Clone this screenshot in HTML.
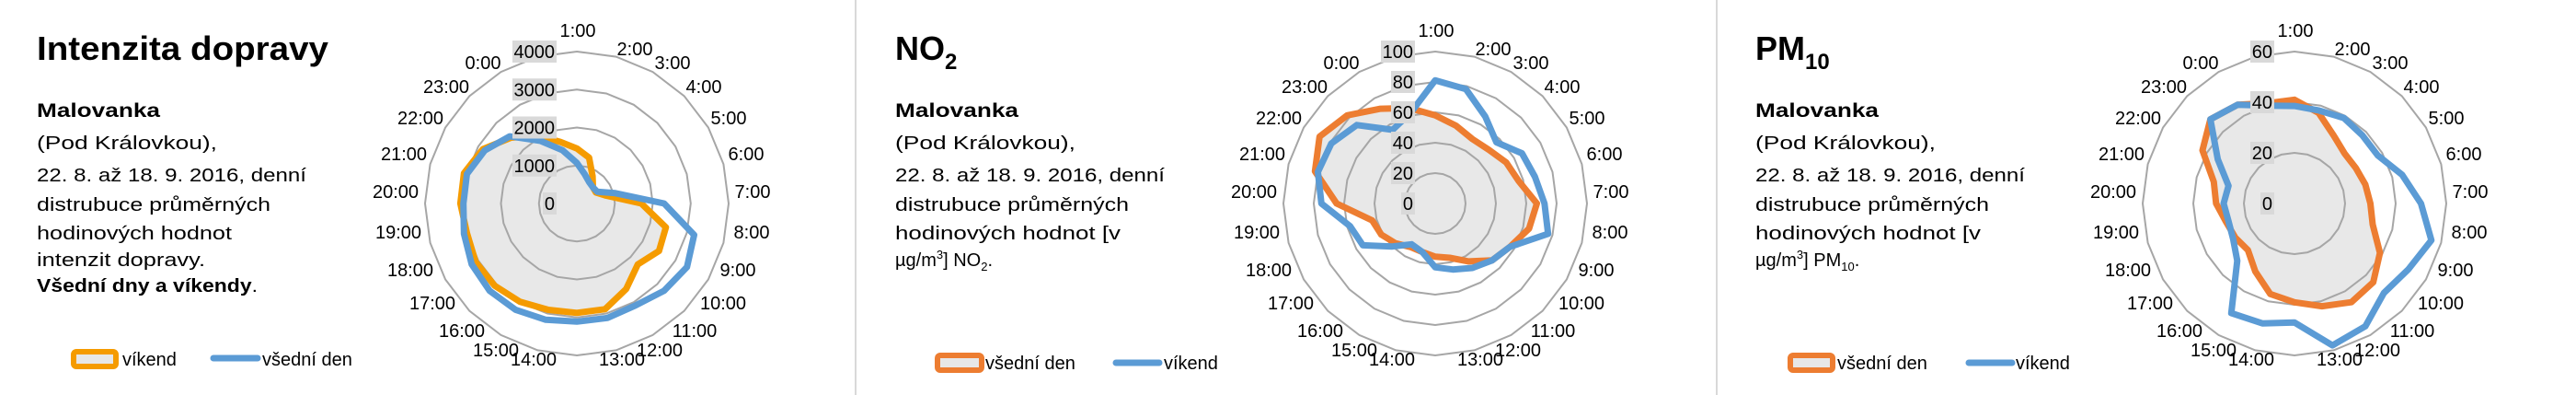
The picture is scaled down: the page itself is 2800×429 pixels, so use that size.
<!DOCTYPE html>
<html><head><meta charset="utf-8">
<style>
html,body{margin:0;padding:0;background:#fff;}
svg{display:block;font-family:"Liberation Sans",Arial,sans-serif;}
</style></head>
<body>
<svg id="root" width="2800" height="429" viewBox="0 0 2800 429" xmlns="http://www.w3.org/2000/svg">
<rect x="0" y="0" width="2800" height="429" fill="#fff"/>
<line x1="930" y1="0" x2="930" y2="429" stroke="#d9d9d9" stroke-width="2"/>
<line x1="1866" y1="0" x2="1866" y2="429" stroke="#d9d9d9" stroke-width="2"/>

<g>
<text x="40" y="65" font-size="36" font-weight="bold" textLength="317" lengthAdjust="spacingAndGlyphs">Intenzita dopravy</text>
<text x="40" y="127" font-size="21" font-weight="bold" textLength="134" lengthAdjust="spacingAndGlyphs">Malovanka</text>
<text x="40" y="162" font-size="20" textLength="196" lengthAdjust="spacingAndGlyphs">(Pod Královkou),</text>
<text x="40" y="197" font-size="20" textLength="293" lengthAdjust="spacingAndGlyphs">22. 8. až 18. 9. 2016, denní</text>
<text x="40" y="229" font-size="20" textLength="254" lengthAdjust="spacingAndGlyphs">distrubuce průměrných</text>
<text x="40" y="260" font-size="20" textLength="212" lengthAdjust="spacingAndGlyphs">hodinových hodnot</text>
<text x="40" y="289" font-size="20" textLength="183" lengthAdjust="spacingAndGlyphs">intenzit dopravy.</text>
<text x="40" y="317" font-size="20" font-weight="bold" textLength="240" lengthAdjust="spacingAndGlyphs">Všední dny a víkendy<tspan font-weight="normal">.</tspan></text>
</g>

<g>
<text x="973" y="65" font-size="36" font-weight="bold">NO<tspan font-size="24" dy="10">2</tspan></text>
<text x="973" y="127" font-size="21" font-weight="bold" textLength="134" lengthAdjust="spacingAndGlyphs">Malovanka</text>
<text x="973" y="162" font-size="20" textLength="196" lengthAdjust="spacingAndGlyphs">(Pod Královkou),</text>
<text x="973" y="197" font-size="20" textLength="293" lengthAdjust="spacingAndGlyphs">22. 8. až 18. 9. 2016, denní</text>
<text x="973" y="229" font-size="20" textLength="254" lengthAdjust="spacingAndGlyphs">distrubuce průměrných</text>
<text x="973" y="260" font-size="20" textLength="245" lengthAdjust="spacingAndGlyphs">hodinových hodnot  [v</text>
<text x="973" y="289" font-size="20">µg/m<tspan font-size="13" dy="-8">3</tspan><tspan dy="8">] NO</tspan><tspan font-size="13" dy="5">2</tspan><tspan dy="-5">.</tspan></text>
</g>

<g>
<text x="1908" y="65" font-size="36" font-weight="bold">PM<tspan font-size="24" dy="10">10</tspan></text>
<text x="1908" y="127" font-size="21" font-weight="bold" textLength="134" lengthAdjust="spacingAndGlyphs">Malovanka</text>
<text x="1908" y="162" font-size="20" textLength="196" lengthAdjust="spacingAndGlyphs">(Pod Královkou),</text>
<text x="1908" y="197" font-size="20" textLength="293" lengthAdjust="spacingAndGlyphs">22. 8. až 18. 9. 2016, denní</text>
<text x="1908" y="229" font-size="20" textLength="254" lengthAdjust="spacingAndGlyphs">distrubuce průměrných</text>
<text x="1908" y="260" font-size="20" textLength="245" lengthAdjust="spacingAndGlyphs">hodinových hodnot  [v</text>
<text x="1908" y="289" font-size="20">µg/m<tspan font-size="13" dy="-8">3</tspan><tspan dy="8">] PM</tspan><tspan font-size="13" dy="5">10</tspan><tspan dy="-5">.</tspan></text>
</g>

<g>
<rect x="80" y="382" width="46" height="16" rx="3" fill="#e7e7e7" stroke="#f59b00" stroke-width="6"/>
<text x="133" y="397" font-size="20">víkend</text>
<line x1="232" y1="389" x2="280" y2="389" stroke="#5b9bd5" stroke-width="7" stroke-linecap="round"/>
<text x="285" y="397" font-size="20">všední den</text>
</g>
<g>
<rect x="1019" y="386" width="48" height="16" rx="3" fill="#e7e7e7" stroke="#ed7d31" stroke-width="6"/>
<text x="1071" y="401" font-size="20">všední den</text>
<line x1="1213" y1="394" x2="1260" y2="394" stroke="#5b9bd5" stroke-width="7" stroke-linecap="round"/>
<text x="1265" y="401" font-size="20">víkend</text>
</g>
<g>
<rect x="1946" y="386" width="46" height="16" rx="3" fill="#e7e7e7" stroke="#ed7d31" stroke-width="6"/>
<text x="1997" y="401" font-size="20">všední den</text>
<line x1="2140" y1="394" x2="2187" y2="394" stroke="#5b9bd5" stroke-width="7" stroke-linecap="round"/>
<text x="2191" y="401" font-size="20">víkend</text>
</g>
</svg>

<script>
const hours = ['1:00','2:00','3:00','4:00','5:00','6:00','7:00','8:00','9:00','10:00','11:00','12:00','13:00','14:00','15:00','16:00','17:00','18:00','19:00','20:00','21:00','22:00','23:00','0:00'];

const trafficTicks = [0, 1000, 2000, 3000, 4000];
const trafficWeekend = [1450, 1250, 830, 600, 580, 800, 1700, 2430, 2500, 2270, 2600, 2880, 2880, 2900, 2990, 3060, 3080, 3000, 3070, 3080, 2860, 2450, 2060, 1680];
const trafficWeekday = [1070, 800, 650, 600, 620, 1050, 2300, 3200, 3350, 3250, 3100, 3120, 3110, 3170, 3230, 3250, 3200, 3080, 2990, 3000, 2800, 2500, 1900, 1450];

const no2Ticks = [0, 20, 40, 60, 80, 100];
const no2Weekday = [58, 53, 49, 50, 54, 57, 67, 64, 57, 53, 44, 37, 35, 33, 33, 37, 41, 43, 65, 82, 88, 82, 72, 65];
const no2Weekend = [81, 78, 66, 57, 66, 68, 72, 77, 57, 53, 49, 45, 42, 33, 31, 40, 55, 58, 75, 80, 79, 73, 56, 62];

const pm10Ticks = [0, 20, 40, 60];
const pm10Weekday = [41, 37, 31, 28, 28, 29, 30, 32, 39, 44, 45, 42, 39, 37, 31, 26, 27, 28, 31, 33, 42, 47, 45, 41];
const pm10Weekend = [38.5, 38, 39, 38, 38, 44, 50, 56, 52, 50, 56, 58, 47, 49, 50, 32, 28, 27, 28, 27, 35, 47, 45, 40];

const NS = 'http://www.w3.org/2000/svg';
const svg = document.getElementById('root');
const labelOffsets = [[1,-188],[63,-168],[104,-153],[138,-127],[165,-93],[184,-54],[191,-13],[190,31],[175,72],[159,108],[128,138],[90,159],[49,169],[-47,169],[-88,159],[-125,138],[-157,108],[-181,72],[-194,31],[-197,-13],[-188,-54],[-170,-93],[-142,-127],[-102,-153]];

function mk(tag, attrs, parent) {
  const el = document.createElementNS(NS, tag);
  for (const k in attrs) el.setAttribute(k, attrs[k]);
  parent.appendChild(el);
  return el;
}

function radar(prefix, cx, cy, ticks, fillSeries, fillColor, fillName, lineSeries, lineName) {
  const R = 165;
  const max = ticks[ticks.length - 1];
  const n = hours.length;
  const pt = (i, v) => {
    const a = i * 2 * Math.PI / n;
    const r = R * v / max;
    return [cx + r * Math.sin(a), cy - r * Math.cos(a)];
  };
  const pts = arr => arr.map((v, i) => pt(i, v).map(c => c.toFixed(1)).join(',')).join(' ');
  const g = mk('g', {}, svg);
  
  

  const area = mk('polygon', {points: pts(fillSeries), fill: '#e8e8e8', stroke: 'none'}, g);
  
  

  ticks.forEach(t => {
    if (t === 0) return;
    const ring = mk('polygon', {points: pts(hours.map(() => t)), fill: 'none', stroke: '#a6a6a6', 'stroke-width': 2}, g);
    
    
  });

  const l1 = mk('polygon', {points: pts(fillSeries), fill: 'none', stroke: fillColor, 'stroke-width': 7, 'stroke-linejoin': 'round'}, g);
  
  

  const l2 = mk('polygon', {points: pts(lineSeries), fill: 'none', stroke: '#5b9bd5', 'stroke-width': 7, 'stroke-linejoin': 'round'}, g);
  
  

  ticks.forEach(t => {
    const y = cy - R * t / max;
    const s = String(t);
    const w = s.length * 11 + 4;
    const bx = mk('rect', {x: cx - 22 - w, y: y - 12, width: w, height: 24, fill: '#d9d9d9'}, g);
    
    
    const tx = mk('text', {x: cx - 24, y: y + 7, 'font-size': 20, 'text-anchor': 'end', fill: '#000'}, g);
    tx.textContent = s;
    
    
  });

  hours.forEach((h, i) => {
    const o = labelOffsets[i];
    const tx = mk('text', {x: cx + o[0], y: cy + o[1] + 7, 'font-size': 20, 'text-anchor': 'middle', fill: '#000'}, g);
    tx.textContent = h;
    
    
  });
}

radar('traffic', 627, 221, trafficTicks, trafficWeekend, '#f59b00', 'weekend', trafficWeekday, 'weekday');
radar('no2', 1560, 221, no2Ticks, no2Weekday, '#ed7d31', 'weekday', no2Weekend, 'weekend');
radar('pm10', 2494, 221, pm10Ticks, pm10Weekday, '#ed7d31', 'weekday', pm10Weekend, 'weekend');
</script>
</body></html>
